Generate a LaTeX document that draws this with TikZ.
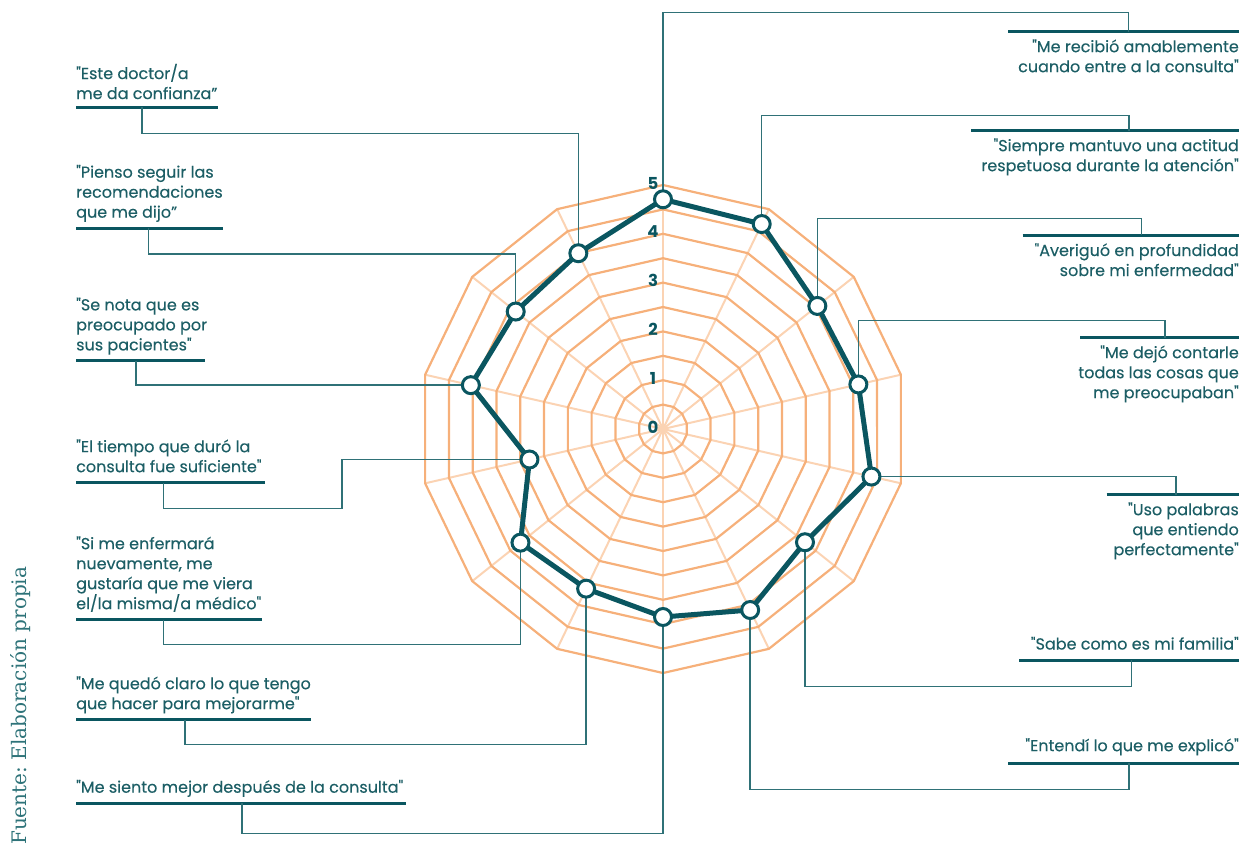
\documentclass[tikz,border=0pt]{standalone}
\usepackage{fontspec}
\setmainfont{Poppins}
\newfontfamily\lblff{Poppins}[FakeBold=0.25]
\newfontfamily\srcfont{DejaVu Serif}
\frenchspacing
\definecolor{darkteal}{HTML}{0A5660}
\definecolor{tealtxt}{HTML}{1C5E65}
\definecolor{connc}{HTML}{2F7177}
\definecolor{ringc}{HTML}{F6B07A}
\definecolor{spokec}{HTML}{FBD3B3}
\definecolor{srcc}{HTML}{2E7379}
\newcommand\lblfont{\lblff\fontsize{16}{20}\selectfont}
\newcommand\numfont{\fontsize{16.5}{16.5}\selectfont\bfseries}
\newcommand\st{\rule{0pt}{13pt}}
\begin{document}
\begin{tikzpicture}[x=1pt,y=-1pt,
  ringline/.style={draw=ringc, line width=2.2pt},
  spokeline/.style={draw=spokec, line width=2pt},
  dataline/.style={draw=darkteal, line width=5pt, line join=round},
  dot/.style={circle, draw=darkteal, fill=white, line width=3pt, minimum size=17pt, inner sep=0pt},
  conn/.style={draw=connc, line width=1.5pt},
  uline/.style={draw=darkteal, line width=3pt},
  lbl/.style={text=tealtxt, font=\lblfont, inner sep=0pt},
  num/.style={text=darkteal, font=\numfont, inner sep=0pt}]
\useasboundingbox (0,0) rectangle (1249,847);
\coordinate (C) at (663,429);
% spokes
\foreach \k in {0,...,13}
  \draw[spokeline] (C) -- ({663+244*cos(90-\k*360/14)},{429-244*sin(90-\k*360/14)});
% rings
\foreach \j in {1,...,10}{
  \pgfmathsetmacro\rr{\j*24.4}
  \draw[ringline] (663,{429-\rr}) \foreach \k in {1,...,13}{ -- ({663+\rr*cos(90-\k*360/14)},{429-\rr*sin(90-\k*360/14)}) } -- cycle;
}
% scale numbers
\foreach \n in {0,...,5}
  \node[num] (n\n) at (653,{427-\n*48.8}) {\n};
% data coordinates
\foreach \r [count=\i from 0] in {229.7,227.5,197.4,200.4,213.8,181.6,200.9,188,177.2,182.3,137,197.1,188.4,195.1}
  \coordinate (q\i) at ({663+\r*cos(90-\i*360/14)},{429-\r*sin(90-\i*360/14)});

% ---------- right labels ----------
\node[lbl, anchor=north east, align=right] (R0) at (1239,39) {\st"Me recibió amablemente\\cuando entre a la consulta"};
\node[lbl, anchor=north east, align=right] (R1) at (1239,138) {\st"Siempre mantuvo una actitud\\respetuosa durante la atención"};
\node[lbl, anchor=north east, align=right] (R2) at (1239,242.8) {\st"Averiguó en profundidad\\sobre mi enfermedad"};
\node[lbl, anchor=north east, align=right] (R3) at (1239,345) {\st"Me dejó contarle\\todas las cosas que\\me preocupaban"};
\node[lbl, anchor=north east, align=right] (R4) at (1239,502) {\st"Uso palabras\\que entiendo\\perfectamente"};
\node[lbl, anchor=north east, align=right] (R5) at (1239,636.3) {\st"Sabe como es mi familia"};
\node[lbl, anchor=north east, align=right] (R6) at (1239,738) {\st"Entendí lo que me explicó"};
% ---------- left labels ----------
\node[lbl, anchor=north west, align=left] (L13) at (76,63.8) {\st"Este doctor/a\\me da confianza”};
\node[lbl, anchor=north west, align=left] (L12) at (76,164.5) {\st"Pienso seguir las\\recomendaciones\\que me dijo”};
\node[lbl, anchor=north west, align=left] (L11) at (76,297.2) {\st"Se nota que es\\preocupado por\\sus pacientes"};
\node[lbl, anchor=north west, align=left] (L10) at (76,439) {\st"El tiempo que duró la\\consulta fue suficiente"};
\node[lbl, anchor=north west, align=left] (L9) at (76,536) {\st"Si me enfermará\\nuevamente, me\\gustaría que me viera\\el/la misma/a médico"};
\node[lbl, anchor=north west, align=left] (L8) at (76,676) {\st"Me quedó claro lo que tengo\\que hacer para mejorarme"};
\node[lbl, anchor=north west, align=left] (L7) at (76,779.5) {\st"Me siento mejor después de la consulta"};

% underlines
\draw[uline] (1008,31.5) -- (1239,31.5);
\draw[uline] (971,130.5) -- (1239,130.5);
\draw[uline] (1022.7,235.3) -- (1239,235.3);
\draw[uline] (1080,337.5) -- (1239,337.5);
\draw[uline] (1106.7,494.5) -- (1239,494.5);
\draw[uline] (1019,660.3) -- (1239,660.3);
\draw[uline] (1008,763.3) -- (1239,763.3);
\draw[uline] (76,803) -- (406,803);
\draw[uline] (76,719.5) -- (311.4,719.5);
\draw[uline] (76,619.5) -- (261.5,619.5);
\draw[uline] (76,482.5) -- (264.5,482.5);
\draw[uline] (76,360.7) -- (205.3,360.7);
\draw[uline] (76,228) -- (223,228);
\draw[uline] (76,107.3) -- (217.7,107.3);

% connector points
\coordinate (c0) at (1128.7,12.3);  \coordinate (t0) at (1128.7,31.5);
\coordinate (c1) at (1129,115.7);   \coordinate (t1) at (1129,130.5);
\coordinate (c2) at (1141.7,218.5); \coordinate (t2) at (1141.7,235.3);
\coordinate (c3) at (1165,320.7);   \coordinate (t3) at (1165,337.5);
\coordinate (t4) at (1176,494.5);
\coordinate (c5) at (1131.3,686.7); \coordinate (t5) at (1131.3,660.3);
\coordinate (c6) at (1129,789.3);   \coordinate (t6) at (1129,763.3);
\coordinate (t7) at (242,803);      \coordinate (c7) at (242,833.3);
\coordinate (t8) at (185,719.5);    \coordinate (c8) at (185,744.3);
\coordinate (t9) at (163.3,619.5);  \coordinate (c9) at (163.3,644.5);
\coordinate (t10) at (163.3,482.5); \coordinate (c10) at (163.3,508.3); \coordinate (d10) at (342,508.3);
\coordinate (t11) at (136,360.7);
\coordinate (t12) at (148.3,228);   \coordinate (c12) at (148.3,254);
\coordinate (t13) at (142,107.3);   \coordinate (c13) at (142,133.3);

% connectors
\draw[conn] (q0) |- (c0) -- (t0);
\draw[conn] (q1) |- (c1) -- (t1);
\draw[conn] (q2) |- (c2) -- (t2);
\draw[conn] (q3) |- (c3) -- (t3);
\draw[conn] (q4) -| (t4);
\draw[conn] (q5) |- (c5) -- (t5);
\draw[conn] (q6) |- (c6) -- (t6);
\draw[conn] (t7) -- (c7) -| (q7);
\draw[conn] (t8) -- (c8) -| (q8);
\draw[conn] (t9) -- (c9) -| (q9);
\draw[conn] (t10) -- (c10) -- (d10) |- (q10);
\draw[conn] (t11) |- (q11);
\draw[conn] (t12) -- (c12) -| (q12);
\draw[conn] (t13) -- (c13) -| (q13);

% data polygon
\draw[dataline] (q0) \foreach \i in {1,...,13}{ -- (q\i) } -- cycle;
\foreach \i in {0,...,13}
  \node[dot] (p\i) at (q\i) {};

% source
\node[rotate=90, anchor=base west, text=srcc, font=\srcfont\fontsize{20}{20}\selectfont, inner sep=0pt] (src) at (26,845) {Fuente: Elaboración propia};
\end{tikzpicture}
\end{document}
